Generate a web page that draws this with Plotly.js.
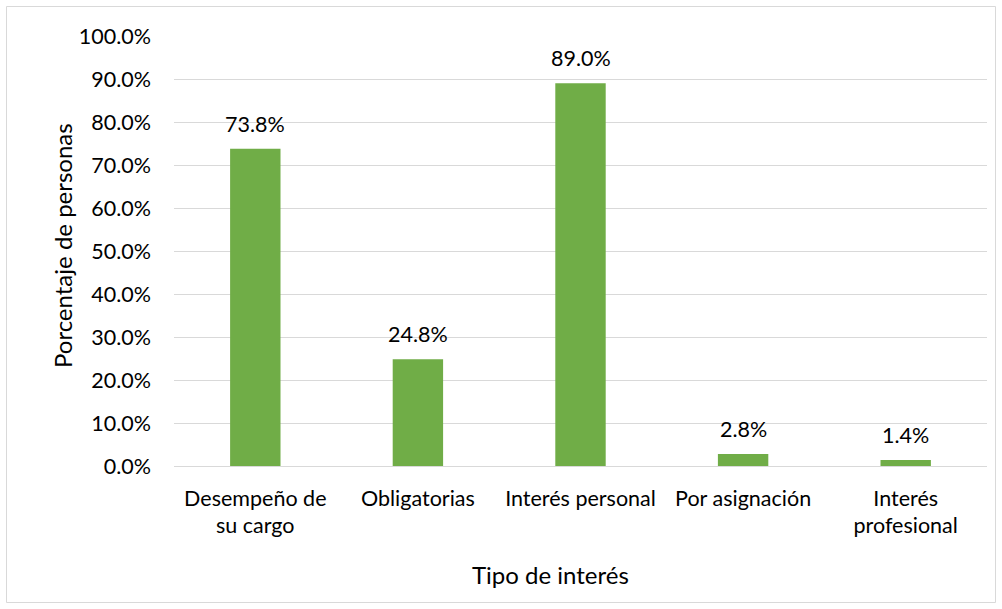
<!DOCTYPE html>
<html><head><meta charset="utf-8">
<script src="https://cdn.plot.ly/plotly-3.0.1.min.js"></script>
<style>body{margin:0;background:#fff}#c{width:1002px;height:609px}</style>
</head><body><div id="c"></div>
<script>
const categories = ["Desempeño de<br>su cargo", "Obligatorias", "Interés personal", "Por asignación", "Interés<br>profesional"];
const values = [0.738, 0.248, 0.890, 0.028, 0.014];
const labels = ["73.8%", "24.8%", "89.0%", "2.8%", "1.4%"];

const FONT = "Lato, 'Open Sans', sans-serif";
const W = 1002, H = 609, L = 174, R = 15, T = 36, B = 143;
const pw = W - L - R, ph = H - T - B;
const px = x => (x - L) / pw, py = y => (H - B - y) / ph;

const trace = {
  type: "bar", x: categories, y: values,
  marker: {color: "#70AD47"}, hoverinfo: "skip"
};
const annotations = categories.map((c, i) => ({
  x: c, y: values[i], xref: "x", yref: "y", text: labels[i],
  showarrow: false, yanchor: "middle", yshift: 25,
  font: {family: FONT, size: 21.5, color: "#000"}
}));
annotations.push({
  xref: "paper", yref: "paper", x: px(62), y: py(246), text: "Porcentaje de personas",
  textangle: -90, showarrow: false, xanchor: "center", yanchor: "middle",
  font: {family: FONT, size: 24, color: "#000"}
});
annotations.push({
  xref: "paper", yref: "paper", x: px(550), y: py(574), text: "Tipo de interés",
  showarrow: false, xanchor: "center", yanchor: "middle",
  font: {family: FONT, size: 24, color: "#000"}
});

const layout = {
  width: W, height: H,
  margin: {l: L, r: R, t: T, b: B, pad: 0},
  paper_bgcolor: "#fff", plot_bgcolor: "#fff",
  bargap: 0.69,
  showlegend: false,
  xaxis: {
    type: "category", showgrid: false, zeroline: false, showline: false,
    ticks: "", tickfont: {family: FONT, size: 21.5, color: "#000"},
    ticklabelstandoff: 17
  },
  yaxis: {
    range: [0, 1], dtick: 0.1, tick0: 0, tickformat: ".1%",
    showgrid: true, gridcolor: "#d9d9d9", gridwidth: 1,
    zeroline: true, zerolinecolor: "#d9d9d9", zerolinewidth: 1,
    showline: false, ticks: "", ticklabelstandoff: 22,
    tickfont: {family: FONT, size: 21.5, color: "#000"}
  },
  annotations: annotations,
  shapes: [{
    type: "rect", xref: "paper", yref: "paper",
    x0: px(6.5), x1: px(995.5), y0: py(602.5), y1: py(6.5),
    line: {color: "#d9d9d9", width: 1}, fillcolor: "rgba(0,0,0,0)", layer: "below"
  }]
};
Plotly.newPlot("c", [trace], layout, {staticPlot: true});
</script></body></html>
